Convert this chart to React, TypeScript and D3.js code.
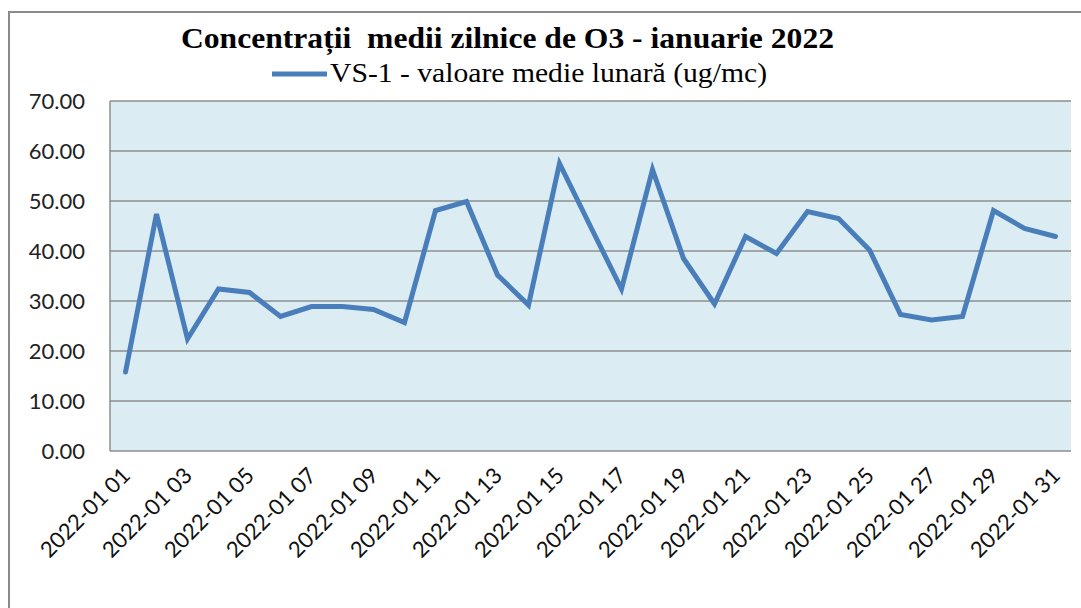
import React, { useEffect, useRef } from 'react';
import * as d3 from 'd3';

const title = 'Concentrații  medii zilnice de O3 - ianuarie 2022';
const seriesName = 'VS-1 - valoare medie lunară (ug/mc)';
const days = d3.range(1, 32).map(d => '2022-01 ' + String(d).padStart(2, '0'));
const values = [
  15.8, 47.4, 22.4, 32.4, 31.7, 26.9, 28.9, 28.9, 28.3, 25.7,
  48.1, 49.9, 35.2, 29.2, 57.5, 44.9, 32.4, 56.3, 38.5, 29.4,
  42.9, 39.5, 47.9, 46.5, 40.2, 27.3, 26.2, 26.9, 48.1, 44.5, 42.9,
];
const yTicks = [0, 10, 20, 30, 40, 50, 60, 70];

const serif = '"Liberation Serif", "Times New Roman", "DejaVu Serif", serif';
const sans = 'Lato, "Open Sans", sans-serif';

function App() {
  const ref = useRef<SVGSVGElement>(null);

  useEffect(() => {
    const W = 1081, H = 608;
    const left = 110, right = 1071, top = 101, bottom = 451;
    const svg = d3.select(ref.current);
    svg.selectAll('*').remove();

    // outer frame
    svg.append('rect')
      .attr('x', 9).attr('y', 12)
      .attr('width', W + 10).attr('height', H + 10)
      .attr('fill', '#fff').attr('stroke', '#8a8a8a').attr('stroke-width', 2);

    const x = d3.scalePoint<string>().domain(days).range([left, right]).padding(0.5);
    const y = d3.scaleLinear().domain([0, 70]).range([bottom, top]);

    svg.append('rect')
      .attr('x', left).attr('y', top)
      .attr('width', right - left).attr('height', bottom - top)
      .attr('fill', '#dbedf3');

    // gridlines
    svg.append('g')
      .selectAll('line')
      .data(yTicks.filter(t => t > 0))
      .enter().append('line')
      .attr('x1', left).attr('x2', right)
      .attr('y1', d => y(d)).attr('y2', d => y(d))
      .attr('stroke', '#8e8e8e').attr('stroke-width', 1.5);

    // axes lines
    svg.append('line')
      .attr('x1', left).attr('x2', left).attr('y1', top).attr('y2', bottom)
      .attr('stroke', '#8e8e8e').attr('stroke-width', 1.5);
    svg.append('line')
      .attr('x1', left).attr('x2', right).attr('y1', bottom).attr('y2', bottom)
      .attr('stroke', '#8e8e8e').attr('stroke-width', 1.5);

    // y labels
    svg.append('g')
      .selectAll('text')
      .data(yTicks)
      .enter().append('text')
      .attr('x', 85).attr('y', d => y(d) + 8)
      .attr('text-anchor', 'end')
      .style('font-family', sans)
      .attr('font-size', 22)
      .attr('fill', '#222')
      .text(d => d.toFixed(2));

    // x labels
    svg.append('g')
      .selectAll('text')
      .data(days.filter((_, i) => i % 2 === 0))
      .enter().append('text')
      .attr('transform', d => `translate(${(x(d) as number) + 6},${bottom + 26}) rotate(-45)`)
      .attr('text-anchor', 'end')
      .style('font-family', sans)
      .attr('font-size', 22)
      .attr('fill', '#111')
      .text(d => d);

    const line = d3.line<number>()
      .x((_, i) => x(days[i]) as number)
      .y(v => y(v));

    svg.append('path')
      .datum(values)
      .attr('d', line)
      .attr('fill', 'none')
      .attr('stroke', '#4a7ebb')
      .attr('stroke-width', 5)
      .attr('stroke-linejoin', 'miter')
      .attr('stroke-linecap', 'round');

    // title
    svg.append('text')
      .attr('x', 181).attr('y', 48)
      .style('font-family', serif)
      .attr('font-weight', 'bold')
      .attr('font-size', 29)
      .attr('textLength', 653)
      .attr('lengthAdjust', 'spacingAndGlyphs')
      .attr('xml:space', 'preserve')
      .style('white-space', 'pre')
      .text(title);

    // legend
    svg.append('line')
      .attr('x1', 272).attr('x2', 327).attr('y1', 74).attr('y2', 74)
      .attr('stroke', '#4a7ebb').attr('stroke-width', 5);
    svg.append('text')
      .attr('x', 330).attr('y', 82)
      .style('font-family', serif)
      .attr('font-size', 27)
      .attr('textLength', 437)
      .attr('lengthAdjust', 'spacingAndGlyphs')
      .text(seriesName);
  }, []);

  return (
    <svg ref={ref} width={1081} height={608}
      style={{ position: 'absolute', left: 0, top: 0, background: '#fff' }} />
  );
}

export default App;
